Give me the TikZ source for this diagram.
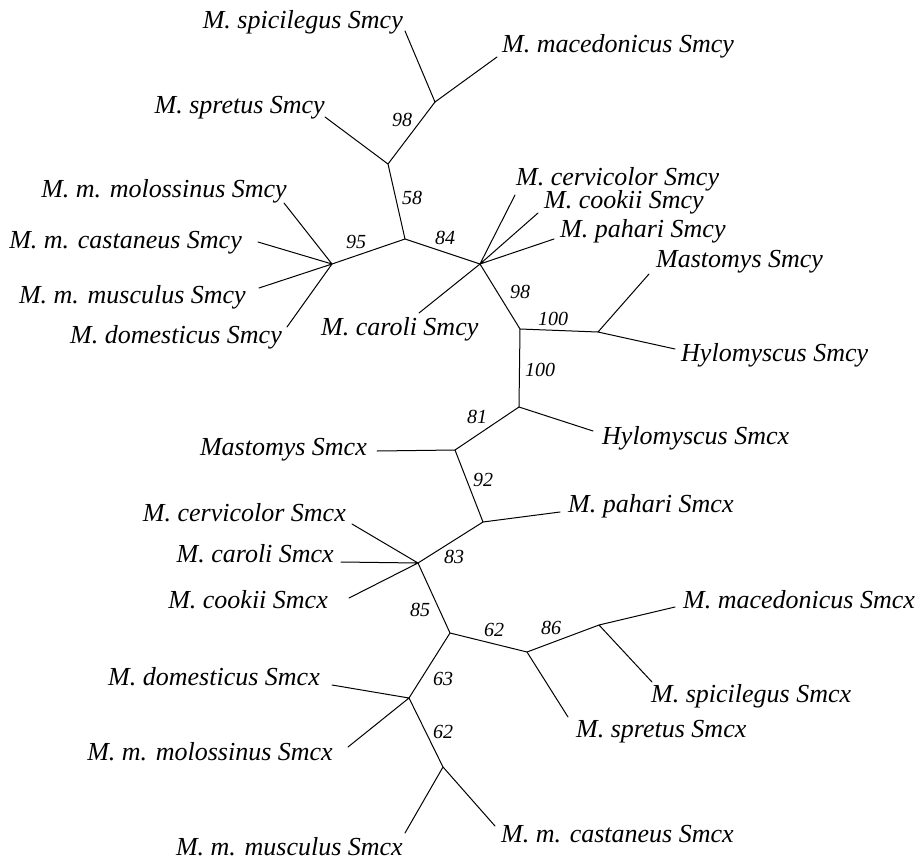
\documentclass[tikz,border=0pt]{standalone}
\usepackage{fontspec}
\setmainfont{Liberation Serif}
\begin{document}
\begin{tikzpicture}[x=1pt,y=-1pt,
  branch/.style={line width=1pt,line cap=round,line join=round},
  leafl/.style={inner sep=0pt,anchor=base east,font=\fontsize{26}{28}\selectfont\itshape},
  leafr/.style={inner sep=0pt,anchor=base west,font=\fontsize{26}{28}\selectfont\itshape},
  boot/.style={inner sep=0pt,anchor=center,font=\fontsize{20}{22}\selectfont\itshape}]
\useasboundingbox (0,0) rectangle (919,857);
% internal nodes
\coordinate (A) at (435,102);
\coordinate (B) at (388,164);
\coordinate (C) at (405,239);
\coordinate (D) at (332,264);
\coordinate (E) at (480,264);
\coordinate (F) at (520,329);
\coordinate (G) at (598,332);
\coordinate (H) at (519,407);
\coordinate (I) at (455,450);
\coordinate (J) at (483,522);
\coordinate (K) at (418,563);
\coordinate (L) at (450,633);
\coordinate (M) at (527,652);
\coordinate (N) at (599,625);
\coordinate (O) at (409,698);
\coordinate (P) at (443,767);
% leaf ends
\coordinate (spiY) at (405,31);
\coordinate (macY) at (497,57);
\coordinate (sprY) at (325,117);
\coordinate (molY) at (284,203);
\coordinate (casY) at (258,242);
\coordinate (musY) at (259,288);
\coordinate (domY) at (287,327);
\coordinate (carY) at (419,313);
\coordinate (cerY) at (515,195);
\coordinate (cooY) at (538,213);
\coordinate (pahY) at (554,239);
\coordinate (masY) at (649,274);
\coordinate (hylY) at (675,349);
\coordinate (hylX) at (593,431);
\coordinate (masX) at (377,451);
\coordinate (pahX) at (560,512);
\coordinate (cerX) at (352,524);
\coordinate (carX) at (341,562);
\coordinate (cooX) at (349,598);
\coordinate (macX) at (675,607);
\coordinate (spiX) at (652,682);
\coordinate (sprX) at (568,717);
\coordinate (domX) at (332,685);
\coordinate (molX) at (348,747);
\coordinate (musX) at (405,833);
\coordinate (casX) at (495,826);
% internal branches
\draw[branch] (A)--(B) (B)--(C) (C)--(D) (C)--(E) (E)--(F) (F)--(G) (F)--(H)
  (H)--(I) (I)--(J) (J)--(K) (K)--(L) (L)--(M) (M)--(N) (L)--(O) (O)--(P);
% terminal branches
\draw[branch] (A)--(spiY) (A)--(macY) (B)--(sprY)
  (D)--(molY) (D)--(casY) (D)--(musY) (D)--(domY)
  (E)--(carY) (E)--(cerY) (E)--(cooY) (E)--(pahY)
  (G)--(masY) (G)--(hylY) (H)--(hylX) (I)--(masX) (J)--(pahX)
  (K)--(cerX) (K)--(carX) (K)--(cooX)
  (N)--(macX) (N)--(spiX) (M)--(sprX)
  (O)--(domX) (O)--(molX) (P)--(musX) (P)--(casX);
% labels
\node[leafl] (spiYt) at (403,28) {M. spicilegus Smcy};
\node[leafr] (macYt) at (502,52) {M. macedonicus Smcy};
\node[leafl] (sprYt) at (325,113) {M. spretus Smcy};
\node[leafl] (molYt) at (287,197) {M. m. molossinus Smcy};
\node[leafl] (casYt) at (242,248) {M. m. castaneus Smcy};
\node[leafl] (musYt) at (246,303) {M. m. musculus Smcy};
\node[leafl] (domYt) at (282,343) {M. domesticus Smcy};
\node[leafr] (carYt) at (321,335) {M. caroli Smcy};
\node[leafr] (cerYt) at (516,185) {M. cervicolor Smcy};
\node[leafr] (cooYt) at (544,208) {M. cookii Smcy};
\node[leafr] (pahYt) at (560,237) {M. pahari Smcy};
\node[leafr] (masYt) at (656,267) {Mastomys Smcy};
\node[leafr] (hylYt) at (681,361) {Hylomyscus Smcy};
\node[leafr] (hylXt) at (602,444) {Hylomyscus Smcx};
\node[leafl] (masXt) at (367,455) {Mastomys Smcx};
\node[leafr] (pahXt) at (568,512) {M. pahari Smcx};
\node[leafl] (cerXt) at (346,521) {M. cervicolor Smcx};
\node[leafl] (carXt) at (334,562) {M. caroli Smcx};
\node[leafl] (cooXt) at (328,608) {M. cookii Smcx};
\node[leafr] (macXt) at (683,608) {M. macedonicus Smcx};
\node[leafr] (spiXt) at (651,702) {M. spicilegus Smcx};
\node[leafr] (sprXt) at (576,737) {M. spretus Smcx};
\node[leafl] (domXt) at (320,685) {M. domesticus Smcx};
\node[leafl] (molXt) at (333,760) {M. m. molossinus Smcx};
\node[leafl] (musXt) at (403,855) {M. m. musculus Smcx};
\node[leafr] (casXt) at (501,842) {M. m. castaneus Smcx};
% bootstrap values
\node[boot] (b1) at (402,120) {98};
\node[boot] (b2) at (412,198) {58};
\node[boot] (b3) at (356,242) {95};
\node[boot] (b4) at (445,238) {84};
\node[boot] (b5) at (520,292) {98};
\node[boot] (b6) at (553,319) {100};
\node[boot] (b7) at (540,370) {100};
\node[boot] (b8) at (477,417) {81};
\node[boot] (b9) at (483,480) {92};
\node[boot] (b10) at (454,557) {83};
\node[boot] (b11) at (420,610) {85};
\node[boot] (b12) at (443,679) {63};
\node[boot] (b13) at (443,732) {62};
\node[boot] (b14) at (494,630) {62};
\node[boot] (b15) at (551,628) {86};
\end{tikzpicture}
\end{document}
